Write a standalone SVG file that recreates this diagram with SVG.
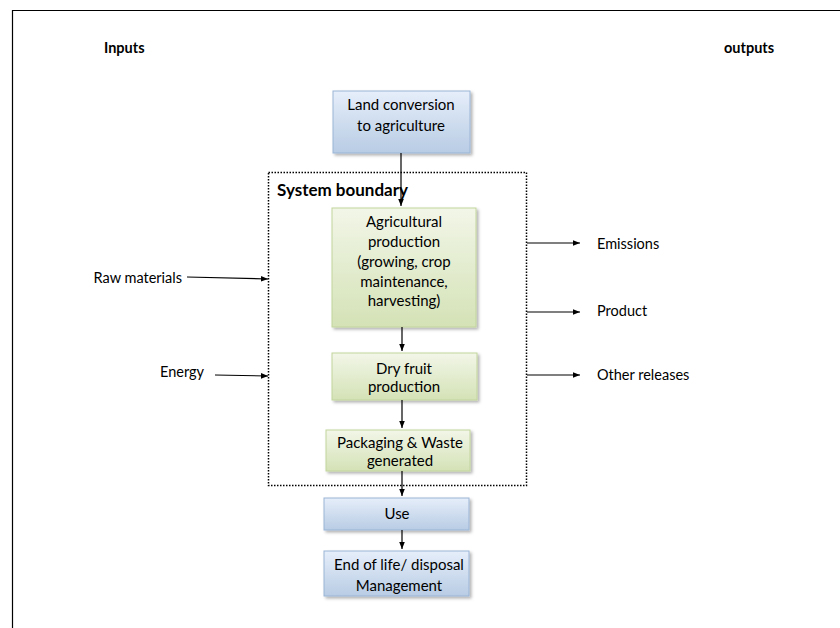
<svg xmlns="http://www.w3.org/2000/svg" width="840" height="628" viewBox="0 0 840 628">
<defs>
<linearGradient id="gBlue" x1="0" y1="0" x2="0" y2="1">
<stop offset="0" stop-color="#e6eefa"/>
<stop offset="1" stop-color="#b8cce4"/>
</linearGradient>
<linearGradient id="gGreen" x1="0" y1="0" x2="0" y2="1">
<stop offset="0" stop-color="#f2f6e8"/>
<stop offset="1" stop-color="#d4e2b6"/>
</linearGradient>
<filter id="sh" x="-10%" y="-10%" width="125%" height="130%">
<feDropShadow dx="2" dy="2" stdDeviation="1.5" flood-color="#000" flood-opacity="0.3"/>
</filter>
<marker id="ah" viewBox="0 0 10 10" refX="10" refY="5" markerWidth="7" markerHeight="7" markerUnits="userSpaceOnUse" orient="auto">
<path d="M0,1 L10,5 L0,9 z" fill="#000"/>
</marker>
</defs>
<style>
text{font-family:Lato,"Open Sans","Liberation Sans",sans-serif;fill:#000}
.t{font-size:15px;text-anchor:middle}
.l{font-size:14.5px}
.b{font-weight:bold}
.blue{fill:url(#gBlue);stroke:#9ab5d6;stroke-width:1;filter:url(#sh)}
.green{fill:url(#gGreen);stroke:#c2d49c;stroke-width:1;filter:url(#sh)}
.c{stroke:#000;stroke-width:1.2;fill:none;marker-end:url(#ah)}
</style>
<rect width="840" height="628" fill="#fff"/>
<path d="M12.5,628 V10.5 H840" fill="none" stroke="#000" stroke-width="1.2"/>
<g id="boundary">
<rect x="268.5" y="172.5" width="258" height="313" fill="none" stroke="#000" stroke-width="1.5" stroke-dasharray="1.5 1.5"/>
<text x="277" y="196" class="b" font-size="17px">System boundary</text>
</g>
<text x="104" y="53" class="l b" font-size="15.5px">Inputs</text>
<text x="724" y="53" class="l b" font-size="15.5px">outputs</text>
<g id="land">
<rect x="333" y="91" width="137" height="62" class="blue"/>
<text x="401" y="110" class="t">Land conversion</text>
<text x="401" y="131" class="t">to agriculture</text>
</g>
<g id="agri">
<rect x="332" y="208" width="144" height="119" class="green"/>
<text x="404" y="227" class="t">Agricultural</text>
<text x="404" y="247" class="t">production</text>
<text x="404" y="267" class="t">(growing, crop</text>
<text x="404" y="287" class="t">maintenance,</text>
<text x="404" y="306" class="t">harvesting)</text>
</g>
<g id="dry">
<rect x="332" y="353" width="145" height="47" class="green"/>
<text x="404" y="374" class="t">Dry fruit</text>
<text x="404" y="392" class="t">production</text>
</g>
<g id="pack">
<rect x="326" y="430" width="144" height="41" class="green"/>
<text x="400" y="448" class="t">Packaging &amp; Waste</text>
<text x="400" y="466" class="t">generated</text>
</g>
<g id="use">
<rect x="324" y="498" width="145" height="32" class="blue"/>
<text x="397" y="519" class="t">Use</text>
</g>
<g id="eol">
<rect x="324" y="551" width="145" height="45" class="blue"/>
<text x="399" y="570" class="t">End of life/ disposal</text>
<text x="399" y="591" class="t">Management</text>
</g>
<g id="labels">
<text x="182" y="283" class="l" text-anchor="end">Raw materials</text>
<text x="160" y="377" class="l">Energy</text>
<text x="597" y="249" class="l">Emissions</text>
<text x="597" y="316" class="l">Product</text>
<text x="597" y="380" class="l">Other releases</text>
</g>
<g id="connectors">
<path d="M401,153 V206" class="c"/>
<path d="M402,327 V351" class="c"/>
<path d="M402,400 V428" class="c"/>
<path d="M402,471 V496" class="c"/>
<path d="M402,530 V549" class="c"/>
<path d="M187,277 L268,279" class="c"/>
<path d="M215,375 L268,376" class="c"/>
<path d="M527,243 H580" class="c"/>
<path d="M527,312 H580" class="c"/>
<path d="M527,375 H580" class="c"/>
</g>
</svg>
